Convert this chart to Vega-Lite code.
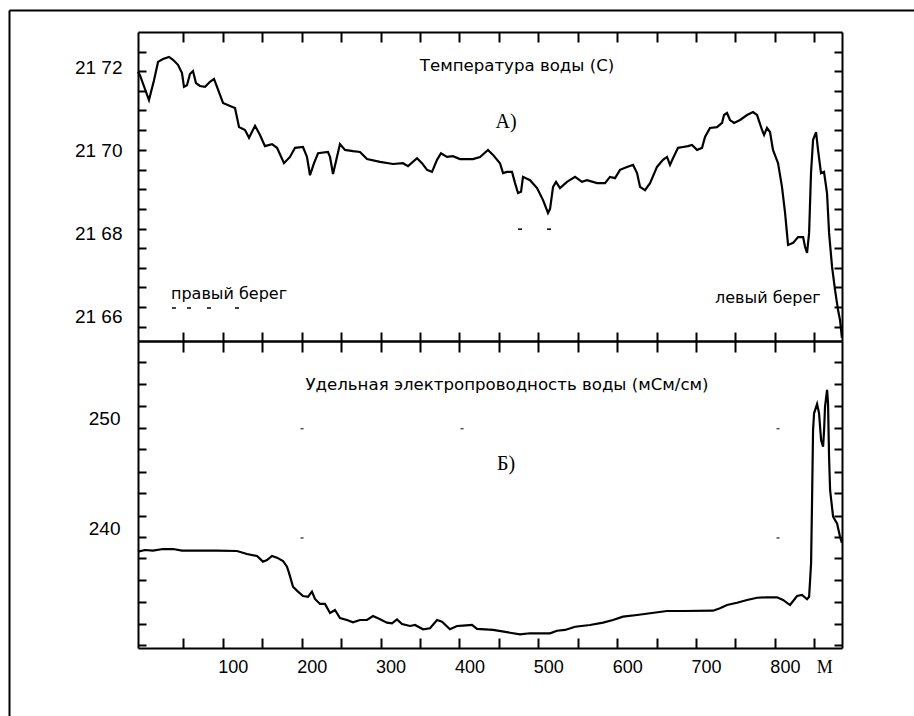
{
  "$schema": "https://vega.github.io/schema/vega-lite/v6.json",
  "width": 914,
  "height": 716,
  "autosize": {"type": "none"},
  "padding": 0,
  "background": "white",
  "config": {
    "view": {"stroke": null},
    "axis": {"domainColor": "black", "tickColor": "black", "labelColor": "black", "grid": false, "domainWidth": 2, "tickWidth": 2, "labelFont": "Liberation Sans", "labelFontSize": 18, "labelFlush": false, "labelOverlap": false}
  },
  "datasets": {
    "temp": [
      {"m":-7.6,"t":21.7189},{"m":-5.1,"t":21.7181},{"m":6.3,"t":21.7121},{"m":12.7,"t":21.7169},{"m":17.8,"t":21.7213},{"m":24.1,"t":21.722},{"m":31.7,"t":21.7225},{"m":36.8,"t":21.7218},{"m":43.1,"t":21.7206},{"m":48.2,"t":21.7186},{"m":50.7,"t":21.7153},{"m":54.5,"t":21.7157},{"m":58.3,"t":21.7184},{"m":62.1,"t":21.7191},{"m":65.9,"t":21.7162},{"m":71.0,"t":21.7155},{"m":77.4,"t":21.7153},{"m":83.7,"t":21.7165},{"m":88.8,"t":21.7172},{"m":92.6,"t":21.7153},{"m":100.2,"t":21.7114},{"m":109.1,"t":21.7107},{"m":115.4,"t":21.7102},{"m":120.5,"t":21.7056},{"m":128.1,"t":21.7049},{"m":133.2,"t":21.703},{"m":140.8,"t":21.7059},{"m":147.1,"t":21.7037},{"m":153.4,"t":21.701},{"m":162.3,"t":21.7015},{"m":168.7,"t":21.7006},{"m":177.5,"t":21.6969},{"m":185.1,"t":21.6984},{"m":191.5,"t":21.7006},{"m":201.6,"t":21.7008},{"m":206.7,"t":21.6984},{"m":210.5,"t":21.694},{"m":215.6,"t":21.6969},{"m":220.7,"t":21.6993},{"m":233.3,"t":21.6996},{"m":235.9,"t":21.6984},{"m":239.7,"t":21.6943},{"m":244.7,"t":21.6984},{"m":248.5,"t":21.7015},{"m":254.9,"t":21.7001},{"m":265.0,"t":21.6998},{"m":273.9,"t":21.6996},{"m":282.8,"t":21.6979},{"m":299.3,"t":21.6972},{"m":315.8,"t":21.6967},{"m":328.4,"t":21.6969},{"m":334.8,"t":21.6962},{"m":346.2,"t":21.6981},{"m":352.5,"t":21.6969},{"m":358.9,"t":21.6953},{"m":365.2,"t":21.6948},{"m":371.6,"t":21.6977},{"m":376.6,"t":21.6993},{"m":384.2,"t":21.6984},{"m":391.8,"t":21.6986},{"m":400.7,"t":21.6979},{"m":417.2,"t":21.6979},{"m":426.1,"t":21.6984},{"m":436.2,"t":21.7001},{"m":442.6,"t":21.6989},{"m":451.4,"t":21.6969},{"m":455.3,"t":21.6945},{"m":460.3,"t":21.6948},{"m":466.7,"t":21.6948},{"m":470.5,"t":21.6921},{"m":474.3,"t":21.6897},{"m":478.1,"t":21.69},{"m":480.6,"t":21.6936},{"m":489.5,"t":21.6928},{"m":498.4,"t":21.6909},{"m":506.0,"t":21.688},{"m":512.3,"t":21.6849},{"m":514.9,"t":21.6859},{"m":518.7,"t":21.6912},{"m":522.5,"t":21.6924},{"m":527.5,"t":21.6909},{"m":536.4,"t":21.6924},{"m":546.6,"t":21.6936},{"m":555.4,"t":21.6924},{"m":561.8,"t":21.6928},{"m":574.5,"t":21.6921},{"m":584.6,"t":21.6921},{"m":590.9,"t":21.6936},{"m":597.3,"t":21.6933},{"m":603.6,"t":21.6953},{"m":612.5,"t":21.696},{"m":620.1,"t":21.6965},{"m":625.2,"t":21.6945},{"m":629.0,"t":21.6912},{"m":635.3,"t":21.6904},{"m":641.7,"t":21.6921},{"m":650.5,"t":21.696},{"m":658.1,"t":21.6977},{"m":663.2,"t":21.6984},{"m":667.0,"t":21.6965},{"m":670.8,"t":21.6981},{"m":677.2,"t":21.7006},{"m":683.5,"t":21.7008},{"m":689.8,"t":21.701},{"m":694.9,"t":21.7013},{"m":701.3,"t":21.7001},{"m":707.6,"t":21.7006},{"m":711.4,"t":21.7032},{"m":717.7,"t":21.7054},{"m":726.6,"t":21.7056},{"m":733.0,"t":21.7066},{"m":735.5,"t":21.7085},{"m":739.3,"t":21.709},{"m":743.1,"t":21.7073},{"m":748.2,"t":21.7066},{"m":755.8,"t":21.7073},{"m":764.7,"t":21.7085},{"m":772.3,"t":21.7092},{"m":777.4,"t":21.7085},{"m":783.7,"t":21.7049},{"m":786.3,"t":21.7037},{"m":790.0,"t":21.7054},{"m":793.8,"t":21.7044},{"m":797.6,"t":21.7001},{"m":804.0,"t":21.6969},{"m":809.0,"t":21.6912},{"m":812.9,"t":21.6849},{"m":816.7,"t":21.6772},{"m":823.1,"t":21.6777},{"m":829.4,"t":21.6791},{"m":835.8,"t":21.6791},{"m":838.3,"t":21.6767},{"m":840.8,"t":21.6753},{"m":843.4,"t":21.6801},{"m":845.8,"t":21.6945},{"m":848.4,"t":21.7025},{"m":852.2,"t":21.7044},{"m":854.7,"t":21.7001},{"m":858.5,"t":21.6945},{"m":862.3,"t":21.6948},{"m":866.1,"t":21.6897},{"m":868.7,"t":21.6801},{"m":872.5,"t":21.6719},{"m":876.3,"t":21.6663},{"m":880.1,"t":21.6615},{"m":882.6,"t":21.6591},{"m":885.0,"t":21.6548}
    ],
    "cond": [
      {"m":-7.6,"c":237.95},{"m":1.3,"c":238.1},{"m":11.4,"c":238.04},{"m":24.1,"c":238.19},{"m":36.8,"c":238.19},{"m":48.2,"c":238.04},{"m":71.0,"c":238.04},{"m":92.6,"c":238.04},{"m":117.9,"c":238.01},{"m":130.6,"c":237.74},{"m":143.3,"c":237.56},{"m":150.9,"c":237.05},{"m":156.0,"c":237.2},{"m":162.3,"c":237.56},{"m":168.7,"c":237.41},{"m":176.3,"c":237.11},{"m":181.3,"c":236.59},{"m":183.9,"c":236.03},{"m":188.9,"c":234.79},{"m":195.3,"c":234.34},{"m":201.6,"c":233.95},{"m":208.0,"c":233.88},{"m":213.0,"c":234.34},{"m":216.8,"c":233.68},{"m":223.2,"c":233.23},{"m":229.5,"c":233.23},{"m":235.9,"c":232.41},{"m":242.2,"c":232.68},{"m":248.5,"c":231.96},{"m":257.4,"c":231.78},{"m":265.0,"c":231.57},{"m":273.9,"c":231.78},{"m":282.8,"c":231.78},{"m":290.4,"c":232.14},{"m":296.7,"c":231.93},{"m":308.1,"c":231.54},{"m":314.5,"c":231.48},{"m":320.8,"c":231.84},{"m":327.2,"c":231.42},{"m":337.3,"c":231.24},{"m":343.7,"c":231.33},{"m":353.8,"c":230.94},{"m":362.7,"c":231.03},{"m":371.6,"c":231.78},{"m":377.9,"c":231.63},{"m":388.0,"c":230.94},{"m":396.9,"c":231.24},{"m":404.5,"c":231.27},{"m":415.9,"c":231.33},{"m":422.3,"c":230.97},{"m":442.6,"c":230.88},{"m":464.1,"c":230.63},{"m":476.8,"c":230.49},{"m":489.5,"c":230.58},{"m":514.9,"c":230.58},{"m":523.7,"c":230.81},{"m":533.9,"c":230.88},{"m":546.6,"c":231.17},{"m":565.6,"c":231.33},{"m":582.1,"c":231.54},{"m":594.7,"c":231.78},{"m":607.4,"c":232.08},{"m":625.2,"c":232.23},{"m":641.7,"c":232.39},{"m":663.2,"c":232.59},{"m":683.5,"c":232.59},{"m":721.5,"c":232.62},{"m":730.4,"c":232.84},{"m":739.3,"c":233.13},{"m":752.0,"c":233.34},{"m":764.7,"c":233.59},{"m":777.4,"c":233.79},{"m":790.0,"c":233.83},{"m":802.7,"c":233.83},{"m":810.3,"c":233.59},{"m":819.2,"c":233.13},{"m":828.1,"c":233.95},{"m":834.4,"c":234.04},{"m":840.8,"c":233.65},{"m":843.4,"c":233.88},{"m":845.9,"c":236.9},{"m":847.2,"c":242.92},{"m":848.4,"c":248.94},{"m":849.7,"c":250.45},{"m":853.5,"c":251.29},{"m":856.0,"c":250.45},{"m":858.6,"c":248.04},{"m":861.1,"c":247.43},{"m":862.4,"c":248.94},{"m":863.6,"c":251.05},{"m":866.2,"c":252.56},{"m":867.4,"c":251.35},{"m":868.7,"c":246.53},{"m":870.0,"c":243.52},{"m":873.8,"c":241.11},{"m":878.8,"c":240.51},{"m":882.6,"c":239.3},{"m":885.0,"c":238.74}
    ],
    "topTitle": [{"m":473.0,"t":21.7192,"label":"Температура воды (С)"}],
    "topBanks": [{"m":34.2,"t":21.6642,"label":"правый берег"},{"m":724.1,"t":21.6632,"label":"левый берег"}],
    "topLetter": [{"m":459.1,"t":21.7054,"label":"А)"}],
    "topDashes": [{"m":38.0,"t":21.662},{"m":57.1,"t":21.662},{"m":82.4,"t":21.662},{"m":117.9,"t":21.662},{"m":476.8,"t":21.681},{"m":513.6,"t":21.681}],
    "botTitle": [{"m":460.3,"c":252.56,"label":"Удельная электропроводность воды (мСм/см)"}],
    "botLetter": [{"m":459.1,"c":245.33,"label":"Б)"}],
    "botDots": [{"m":200.4,"c":249.06},{"m":403.3,"c":249.06},{"m":804.0,"c":249.06},{"m":200.4,"c":239.19},{"m":804.0,"c":239.19}],
    "frame": [{"a":0,"b":0}]
  },
  "resolve": {"scale": {"x": "independent", "y": "independent"}, "axis": {"x": "independent", "y": "independent"}},
  "layer": [
    {
      "data": {"name": "frame"},
      "mark": {"type": "point", "opacity": 0},
      "encoding": {
        "x": {"field": "a", "type": "quantitative", "scale": {"domain": [0, 1], "range": [9, 914], "nice": false, "zero": false},
              "axis": {"orient": "top", "offset": -10, "ticks": false, "labels": false, "title": null, "domainWidth": 2}},
        "y": {"field": "b", "type": "quantitative", "scale": {"domain": [0, 1], "range": [716, 10], "nice": false, "zero": false},
              "axis": {"orient": "left", "offset": -9, "ticks": false, "labels": false, "title": null, "domainWidth": 2}}
      }
    },
    {
      "data": {"name": "temp"},
      "mark": {"type": "line", "color": "black", "strokeWidth": 2.2},
      "encoding": {
        "x": {"field": "m", "type": "quantitative", "scale": {"domain": [-7.6, 885.1], "range": [138, 842], "nice": false, "zero": false},
              "axis": {"orient": "top", "offset": -32, "values": [50,100,150,200,250,300,350,400,450,500,550,600,650,700,750,800,850], "tickSize": -10, "labels": false, "title": null}},
        "y": {"field": "t", "type": "quantitative", "scale": {"domain": [21.65405, 21.72851], "range": [341, 32], "nice": false, "zero": false},
              "axis": {"orient": "left", "offset": -138, "values": [21.72376,21.71911,21.71436,21.70971,21.70489,21.70007,21.69525,21.69067,21.68578,21.68111,21.67639,21.67171,21.66699,21.66231,21.65735], "tickSize": -8, "labels": false, "title": null}}
      }
    },
    {
      "data": {"name": "topTitle"},
      "mark": {"type": "text", "font": "DejaVu Sans", "fontSize": 16.6, "align": "center", "baseline": "alphabetic", "color": "black"},
      "encoding": {
        "x": {"field": "m", "type": "quantitative", "scale": {"domain": [-7.6, 885.1], "range": [138, 842], "nice": false, "zero": false},
              "axis": {"orient": "bottom", "offset": -375, "values": [50,100,150,200,250,300,350,400,450,500,550,600,650,700,750,800,850], "tickSize": 11, "labels": false, "title": null}},
        "y": {"field": "t", "type": "quantitative", "scale": {"domain": [21.65405, 21.72851], "range": [341, 32], "nice": false, "zero": false},
              "axis": {"orient": "left", "offset": -138, "values": [21.66, 21.68, 21.70, 21.72], "ticks": false, "domain": false, "labelPadding": 16, "format": ".2f", "labelExpr": "replace(datum.label, '.', ' ')", "labelFontSize": 19, "title": null}},
        "text": {"field": "label", "type": "nominal"}
      }
    },
    {
      "data": {"name": "topBanks"},
      "mark": {"type": "text", "font": "DejaVu Sans", "fontSize": 16, "align": "left", "baseline": "alphabetic", "color": "black"},
      "encoding": {
        "x": {"field": "m", "type": "quantitative", "scale": {"domain": [-7.6, 885.1], "range": [138, 842], "nice": false, "zero": false}, "axis": null},
        "y": {"field": "t", "type": "quantitative", "scale": {"domain": [21.65405, 21.72851], "range": [341, 32], "nice": false, "zero": false},
              "axis": {"orient": "right", "offset": -72, "values": [21.72376,21.71911,21.71436,21.70971,21.70489,21.70007,21.69525,21.69067,21.68578,21.68111,21.67639,21.67171,21.66699,21.66231,21.65735], "tickSize": -8, "labels": false, "title": null}},
        "text": {"field": "label", "type": "nominal"}
      }
    },
    {
      "data": {"name": "topLetter"},
      "mark": {"type": "text", "font": "Liberation Serif", "fontSize": 20, "align": "center", "baseline": "alphabetic", "color": "black"},
      "encoding": {
        "x": {"field": "m", "type": "quantitative", "scale": {"domain": [-7.6, 885.1], "range": [138, 842], "nice": false, "zero": false}, "axis": null},
        "y": {"field": "t", "type": "quantitative", "scale": {"domain": [21.65405, 21.72851], "range": [341, 32], "nice": false, "zero": false}, "axis": null},
        "text": {"field": "label", "type": "nominal"}
      }
    },
    {
      "data": {"name": "topDashes"},
      "mark": {"type": "tick", "orient": "horizontal", "size": 4, "thickness": 1.5, "color": "black", "opacity": 1},
      "encoding": {
        "x": {"field": "m", "type": "quantitative", "scale": {"domain": [-7.6, 885.1], "range": [138, 842], "nice": false, "zero": false}, "axis": null},
        "y": {"field": "t", "type": "quantitative", "scale": {"domain": [21.65405, 21.72851], "range": [341, 32], "nice": false, "zero": false}, "axis": null}
      }
    },
    {
      "data": {"name": "cond"},
      "mark": {"type": "line", "color": "black", "strokeWidth": 2.2},
      "encoding": {
        "x": {"field": "m", "type": "quantitative", "scale": {"domain": [-7.6, 885.1], "range": [138, 842], "nice": false, "zero": false},
              "axis": {"orient": "top", "offset": -341, "values": [50,100,150,200,250,300,350,400,450,500,550,600,650,700,750,800,850], "tickSize": 9, "labels": false, "title": null}},
        "y": {"field": "c", "type": "quantitative", "scale": {"domain": [229.25, 256.98], "range": [648, 341], "nice": false, "zero": false},
              "axis": {"orient": "left", "offset": -138, "values": [255.06,253.1,251.11,249.1,247.2,245.18,243.22,241.2,239.25,237.35,235.39,233.43,231.42,229.52], "tickSize": -8, "labels": false, "title": null}}
      }
    },
    {
      "data": {"name": "botTitle"},
      "mark": {"type": "text", "font": "DejaVu Sans", "fontSize": 16.6, "align": "center", "baseline": "alphabetic", "color": "black"},
      "encoding": {
        "x": {"field": "m", "type": "quantitative", "scale": {"domain": [-7.6, 885.1], "range": [138, 842], "nice": false, "zero": false},
              "axis": {"orient": "bottom", "offset": -68, "values": [50,100,150,200,250,300,350,400,450,500,550,600,650,700,750,800,850], "tickSize": -10, "labels": false, "title": null}},
        "y": {"field": "c", "type": "quantitative", "scale": {"domain": [229.25, 256.98], "range": [648, 341], "nice": false, "zero": false},
              "axis": {"orient": "left", "offset": -138, "values": [240, 250], "ticks": false, "domain": false, "labelPadding": 18, "labelFontSize": 19, "title": null}},
        "text": {"field": "label", "type": "nominal"}
      }
    },
    {
      "data": {"name": "botLetter"},
      "mark": {"type": "text", "font": "Liberation Serif", "fontSize": 20, "align": "center", "baseline": "alphabetic", "color": "black"},
      "encoding": {
        "x": {"field": "m", "type": "quantitative", "scale": {"domain": [-7.6, 885.1], "range": [138, 842], "nice": false, "zero": false},
              "axis": {"orient": "bottom", "offset": -68, "values": [100,200,300,400,500,600,700,800,850], "ticks": false, "domain": false, "labelPadding": 10, "labelOffset": 10, "labelExpr": "datum.value == 850 ? 'M' : datum.label", "labelFont": {"condition": {"test": "datum.value == 850", "value": "Liberation Serif"}, "value": "Liberation Sans"}, "title": null}},
        "y": {"field": "c", "type": "quantitative", "scale": {"domain": [229.25, 256.98], "range": [648, 341], "nice": false, "zero": false},
              "axis": {"orient": "right", "offset": -72, "values": [255.06,253.1,251.11,249.1,247.2,245.18,243.22,241.2,239.25,237.35,235.39,233.43,231.42,229.52], "tickSize": -8, "labels": false, "title": null}},
        "text": {"field": "label", "type": "nominal"}
      }
    },
    {
      "data": {"name": "botDots"},
      "mark": {"type": "tick", "orient": "horizontal", "size": 3, "thickness": 1.5, "color": "black"},
      "encoding": {
        "x": {"field": "m", "type": "quantitative", "scale": {"domain": [-7.6, 885.1], "range": [138, 842], "nice": false, "zero": false}, "axis": null},
        "y": {"field": "c", "type": "quantitative", "scale": {"domain": [229.25, 256.98], "range": [648, 341], "nice": false, "zero": false}, "axis": null}
      }
    }
  ]
}
